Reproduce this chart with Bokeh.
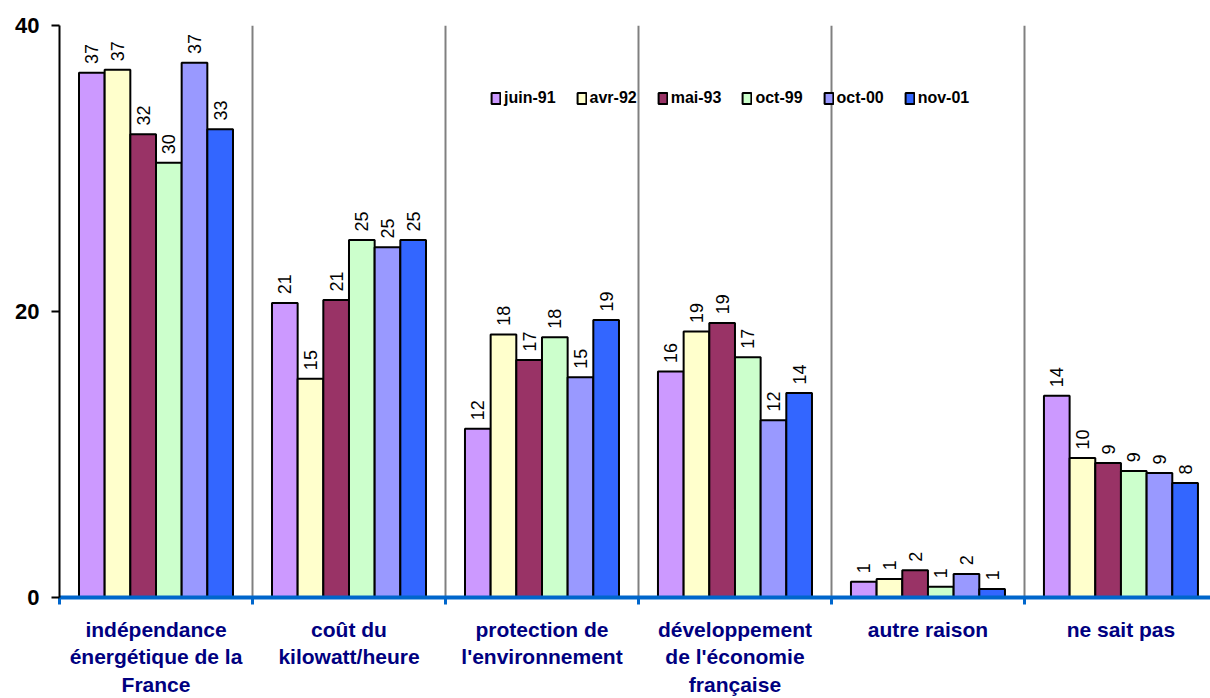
import math
from bokeh.plotting import figure
from bokeh.models import Range1d, FixedTicker, Legend, LegendItem, ColumnDataSource
from bokeh.embed import file_html
from bokeh.resources import INLINE
from bokeh.core.properties import value

# ---- data ----
categories = [
    "indépendance\nénergétique de la\nFrance",
    "coût du\nkilowatt/heure",
    "protection de\nl'environnement",
    "développement\nde l'économie\nfrançaise",
    "autre raison",
    "ne sait pas",
]
series = ["juin-91", "avr-92", "mai-93", "oct-99", "oct-00", "nov-01"]
juin_91 = [36.7, 20.6, 11.8, 15.8, 1.1, 14.1]
avr_92 = [36.9, 15.3, 18.4, 18.6, 1.3, 9.75]
mai_93 = [32.4, 20.8, 16.6, 19.2, 1.9, 9.4]
oct_99 = [30.4, 25.0, 18.2, 16.8, 0.75, 8.85]
oct_00 = [37.4, 24.5, 15.4, 12.4, 1.65, 8.7]
nov_01 = [32.75, 25.0, 19.4, 14.3, 0.6, 8.0]
values = [juin_91, avr_92, mai_93, oct_99, oct_00, nov_01]
colors = ["#CC99FF", "#FFFFCC", "#993366", "#CCFFCC", "#9999FF", "#3366FF"]

FONT = "Liberation Sans"
BW = 0.133

p = figure(width=1210, height=698,
           x_range=Range1d(0, 5.964), y_range=Range1d(0, 40),
           output_backend="svg", toolbar_location=None,
           min_border_left=59, min_border_right=0,
           min_border_top=25, min_border_bottom=99)
p.outline_line_color = None
p.background_fill_color = "white"

items = []
for k, (name, vals, col) in enumerate(zip(series, values, colors)):
    xs = [i + 0.5 + (k - 2.5) * BW for i in range(len(categories))]
    src = ColumnDataSource(dict(
        x=xs, top=vals,
        ty=[v + 0.6 for v in vals],
        lab=[str(int(v + 0.5)) for v in vals],
    ))
    r = p.vbar(x="x", top="top", bottom=0, width=BW, source=src,
               fill_color=col, line_color="black", line_width=2)
    p.text(x="x", y="ty", text="lab", source=src, angle=math.pi / 2,
           text_align="left", text_baseline="middle",
           text_font=value(FONT), text_font_size="18px", text_color="black")
    items.append(LegendItem(label=name, renderers=[r]))

# separators
p.xgrid.ticker = FixedTicker(ticks=[1, 2, 3, 4, 5])
p.xgrid.grid_line_color = "#808080"
p.xgrid.grid_line_width = 2
p.ygrid.grid_line_color = None

# x axis
xa = p.xaxis[0]
centers = [i + 0.5 for i in range(len(categories))]
xa.ticker = FixedTicker(ticks=centers, minor_ticks=list(range(0, 7)))
xa.major_label_overrides = {c: lab for c, lab in zip(centers, categories)}
xa.axis_line_color = "#0066CC"
xa.axis_line_width = 4
xa.major_tick_line_color = None
xa.major_tick_out = 0
xa.major_tick_in = 0
xa.minor_tick_line_color = "#0066CC"
xa.minor_tick_line_width = 3
xa.minor_tick_out = 7
xa.minor_tick_in = 0
xa.major_label_standoff = 13
xa.major_label_text_font = FONT
xa.major_label_text_font_size = "21px"
xa.major_label_text_font_style = "bold"
xa.major_label_text_color = "#000080"

# y axis
ya = p.yaxis[0]
ya.ticker = FixedTicker(ticks=[0, 20, 40])
ya.axis_line_color = "black"
ya.axis_line_width = 2
ya.major_tick_line_color = "black"
ya.major_tick_line_width = 2
ya.major_tick_out = 8
ya.major_tick_in = 0
ya.minor_tick_line_color = None
ya.major_label_standoff = 12
ya.major_label_text_font = FONT
ya.major_label_text_font_size = "22px"
ya.major_label_text_font_style = "bold"
ya.major_label_text_color = "black"

legend = Legend(items=items, orientation="horizontal", location=(431, 490),
                label_text_font=FONT, label_text_font_size="16px",
                label_text_font_style="bold", label_text_color="black",
                glyph_width=11, glyph_height=14, label_standoff=3,
                spacing=20, padding=0, margin=0,
                border_line_color=None, background_fill_alpha=0)
p.add_layout(legend)

open("out.html", "w").write(file_html(p, INLINE))
